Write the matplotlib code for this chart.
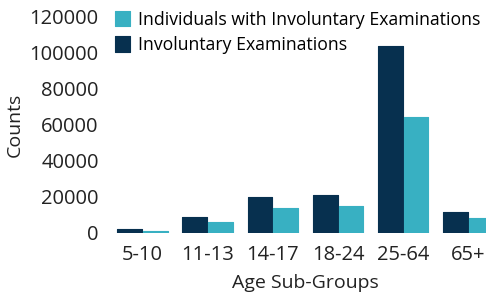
import numpy as np
import matplotlib
matplotlib.use('Agg')
import matplotlib.pyplot as plt

plt.rcParams['font.family'] = ['Open Sans', 'DejaVu Sans']

# data
age_groups = ['5-10', '11-13', '14-17', '18-24', '25-64', '65+']
involuntary_exams = [2000, 9000, 20200, 21000, 104000, 11500]
individuals_exams = [1100, 5900, 13800, 14700, 64500, 8200]

dark = '#07304f'
teal = '#38b0c2'

fig = plt.figure(figsize=(4.86, 2.93), dpi=100)
ax = fig.add_axes([0.226, 0.205, 0.805, 0.737])

x = np.arange(len(age_groups))
w = 0.38
b1 = ax.bar(x - 0.197, involuntary_exams, w, color=dark, edgecolor=dark,
            linewidth=0.8, joinstyle='round', label='Involuntary Examinations')
b2 = ax.bar(x + 0.197, individuals_exams, w, color=teal, edgecolor=teal,
            linewidth=0.8, joinstyle='round',
            label='Individuals with Involuntary Examinations')

ax.set_xlim(-0.5, len(age_groups) - 0.5)
ax.set_ylim(0, 120000)
ax.set_yticks(np.arange(0, 120001, 20000))
ax.set_xticks(x)
ax.set_xticklabels(age_groups)
for s in ax.spines.values():
    s.set_visible(False)
ax.tick_params(length=0, labelsize=14.5, colors='#222222', pad=8)
ax.tick_params(axis='x', pad=9)
ax.set_ylabel('Counts', fontsize=14, color='#222222', labelpad=4)
ax.set_xlabel('Age Sub-Groups', fontsize=14, color='#222222', labelpad=6)

leg = fig.legend([b2, b1], [b2.get_label(), b1.get_label()],
                 loc='upper left', bbox_to_anchor=(0.234, 0.97),
                 frameon=False, fontsize=12.7, handlelength=0.85,
                 handleheight=0.95, handletextpad=0.4, labelspacing=0.42,
                 borderaxespad=0, borderpad=0.1)
for p in leg.get_patches():
    p.set_joinstyle('round')

fig.savefig('out.png', dpi=100)
